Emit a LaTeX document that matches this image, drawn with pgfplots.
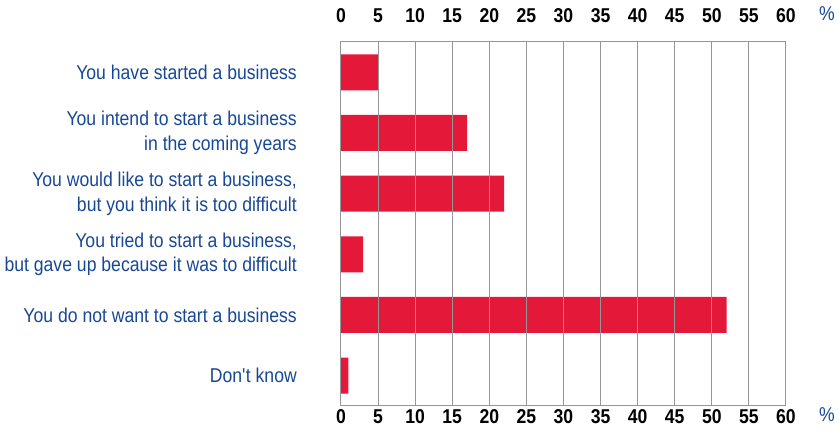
\documentclass[border=0pt]{standalone}
\usepackage{pgfplots}
\pgfplotsset{compat=1.18}
\usepackage{fontspec}
\setmainfont{Liberation Sans}[FakeStretch=0.88]
\definecolor{labelblue}{RGB}{23,72,150}
\definecolor{barred}{RGB}{228,24,56}
\definecolor{gridgray}{RGB}{150,150,150}

\begin{document}
\begin{tikzpicture}
\useasboundingbox (-341pt,-29pt) rectangle (498pt,406pt);
\pgfplotsset{
  common/.style={
    at={(0,0)}, anchor=south west,
    scale only axis,
    width=445pt, height=364pt,
    xmin=0, xmax=60,
    ymin=0.5, ymax=6.5,
    y dir=reverse,
    xtick={0,5,...,60},
    major tick length=0pt,
    xmajorgrids,
    major grid style={gridgray, line width=1pt},
    axis line style={gridgray, line width=1pt},
    /pgf/number format/assume math mode=true,
    xticklabel style={font=\fontsize{20pt}{24pt}\selectfont\bfseries, text=black},
  },
}
\begin{axis}[common,
    ytick={1,...,6},
    yticklabels={
      {You have started a business},
      {You intend to start a business\\in the coming years},
      {You would like to start a business,\\but you think it is too difficult},
      {You tried to start a business,\\but gave up because it was to difficult},
      {You do not want to start a business},
      {Don\textquotesingle t know}},
    yticklabel style={align=right, inner sep=0pt, xshift=-44pt,
      font=\fontsize{20pt}{24.5pt}\selectfont, text=labelblue},
  ]
  \addplot[xbar, bar width=36pt, fill=barred, draw=none]
    coordinates {(5,1) (17,2) (22,3) (3,4) (52,5) (1,6)};
\end{axis}
\begin{axis}[common,
    xticklabel pos=upper,
    xticklabel style={yshift=16pt},
    ytick=\empty,
  ]
\end{axis}
\node[text=labelblue, font=\fontsize{20pt}{24pt}\selectfont] at (486pt,392pt) {\%};
\node[text=labelblue, font=\fontsize{20pt}{24pt}\selectfont] at (486pt,-8.5pt) {\%};
\end{tikzpicture}
\end{document}
